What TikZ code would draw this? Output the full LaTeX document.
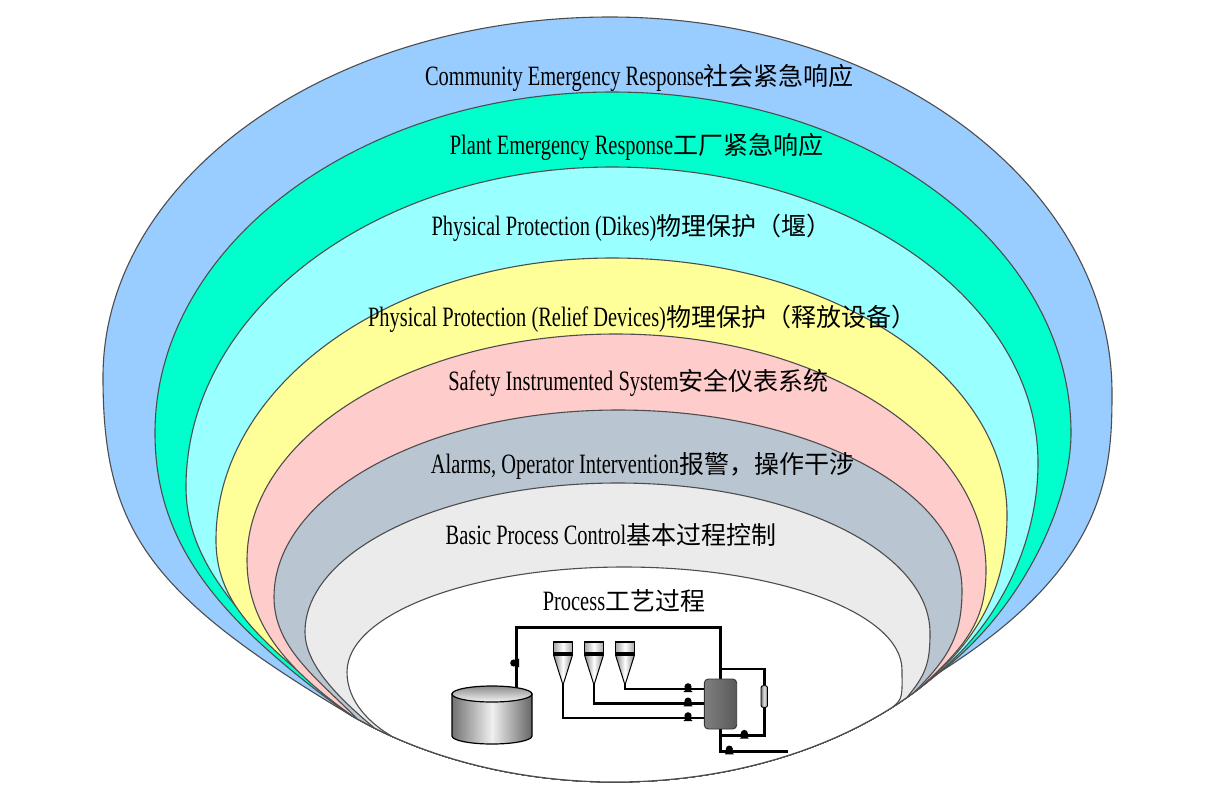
\documentclass[tikz,border=0pt]{standalone}
\usepackage{fontspec}
\setmainfont{Liberation Serif}[FakeStretch=0.73]
\newfontfamily\cjk{Noto Sans CJK SC}
\definecolor{cBlue}{HTML}{99CCFF}
\definecolor{cGreen}{HTML}{00FFCC}
\definecolor{cCyan}{HTML}{99FFFF}
\definecolor{cYellow}{HTML}{FFFF99}
\definecolor{cPink}{HTML}{FFCCCC}
\definecolor{cSlate}{HTML}{B9C5D1}
\definecolor{cLight}{HTML}{EBEBEB}
\definecolor{cWhite}{HTML}{FFFFFF}
\definecolor{cEdge}{HTML}{4D4D4D}
\newcommand\zh[1]{{\cjk\fontsize{25}{30}\selectfont #1}}
\tikzset{
  layer/.style={draw=cEdge, line width=1.1pt, line join=round},
  lbl/.style={inner sep=0pt, anchor=base, font=\fontsize{28}{32}\selectfont},
  pipe/.style={line width=2.6pt, line join=miter, draw=black},
  valve/.pic={\fill[black] (0,-1.2) circle[radius=3.6]; \fill[black] (-4.6,4) -- (4.6,4) -- (0,-1) -- cycle;}
}
\begin{document}
\begin{tikzpicture}[x=1pt,y=-1pt]
\useasboundingbox (0,0) rectangle (1218,804);
\fill[white] (0,0) rectangle (1218,804);
% nested layers
\foreach \Col/\PhL/\AlL/\SL/\XL/\YL/\TL/\XT/\YT/\XR/\YR/\TR/\SR/\AlR/\PhR in {
  cBlue/131.5/31/230/103/377/150/610/17/1112/393/80/200/32/38,
  cGreen/131/36/160/155/433/110/612/92/1071/433/70/110/36/39,
  cCyan/130.5/40/130/186/487/80/612/167/1038/463/70/100/38/40,
  cYellow/130/40/110/216/540/70/612/258/1007/515/60/85/40/41,
  cPink/129.5/35/90/247/560/60/616/334/986/570/50/65/42/42,
  cSlate/129/45/60/274/597/50/618/410/962/590/45/50/45/43,
  cLight/126/40/40/305/632/35/618/483/930/633/30/30/50/44.5,
  cWhite/123/30/25/347/672/30/624/567/902/670/25/15/35/47.5}{
  \pgfmathsetmacro\mlx{615+409*cos(\PhL)}
  \pgfmathsetmacro\mly{500+282*sin(\PhL)}
  \pgfmathsetmacro\cax{\mlx-\SL*cos(\AlL)}
  \pgfmathsetmacro\cay{\mly-\SL*sin(\AlL)}
  \pgfmathsetmacro\mrx{615+409*cos(\PhR)}
  \pgfmathsetmacro\mry{500+282*sin(\PhR)}
  \pgfmathsetmacro\cbx{\mrx+\SR*cos(\AlR)}
  \pgfmathsetmacro\cby{\mry-\SR*sin(\AlR)}
  \pgfmathsetmacro\qa{\YL-0.5523*(\YL-\YT)}
  \pgfmathsetmacro\qb{\XT-0.5523*(\XT-\XL)}
  \pgfmathsetmacro\qc{\XT+0.5523*(\XR-\XT)}
  \pgfmathsetmacro\qd{\YR-0.5523*(\YR-\YT)}
  \pgfmathsetmacro\ylt{\YL+\TL}
  \pgfmathsetmacro\yrt{\YR+\TR}
  \filldraw[layer, fill=\Col] (\mlx,\mly) .. controls (\cax,\cay) and (\XL,\ylt) .. (\XL,\YL)
    .. controls (\XL,\qa) and (\qb,\YT) .. (\XT,\YT)
    .. controls (\qc,\YT) and (\XR,\qd) .. (\XR,\YR)
    .. controls (\XR,\yrt) and (\cbx,\cby) .. (\mrx,\mry)
    -- plot[variable=\t, domain=\PhR:\PhL, samples=40] ({615+409*cos(\t)},{500+282*sin(\t)}) -- cycle;
}
% labels
\node[lbl] (t1) at (639.5,85) {Community Emergency Response\zh{社会紧急响应}};
\node[lbl] (t2) at (636.5,154) {Plant Emergency Response\zh{工厂紧急响应}};
\node[lbl] (t3) at (631.5,235) {Physical Protection (Dikes)\zh{物理保护（堰）}};
\node[lbl] (t4) at (642,326) {Physical Protection (Relief Devices)\zh{物理保护（释放设备）}};
\node[lbl] (t5) at (638.5,390) {Safety Instrumented System\zh{安全仪表系统}};
\node[lbl] (t6) at (642.5,473) {Alarms, Operator Intervention\zh{报警，操作干涉}};
\node[lbl] (t7) at (611,544) {Basic Process Control\zh{基本过程控制}};
\node[lbl] (t8) at (624,610) {Process\zh{工艺过程}};
% process sketch: pipes
\draw[pipe] (516.7,687) -- (516.7,627.3) -- (720.5,627.3) -- (720.5,679);
\draw[pipe] (563,684) -- (563,718) -- (704.3,718);
\draw[pipe] (594,684) -- (594,703.3) -- (704.3,703.3);
\draw[pipe] (625,684) -- (625,689) -- (704.3,689);
\draw[pipe] (720.5,669) -- (764.3,669) -- (764.3,686);
\draw[pipe] (764.3,707) -- (764.3,735.7) -- (720.5,735.7);
\draw[pipe] (720.5,729) -- (720.5,751.3) -- (788,751.3);
% tank
\shadedraw[left color=black!55, right color=black!60, middle color=black!6, draw=black, line width=1.2pt]
  (452,694) -- (452,736) arc[start angle=180, end angle=0, x radius=40, y radius=8] -- (532,694) -- cycle;
\shadedraw[top color=black!45, bottom color=black!4, draw=black, line width=1.2pt] (492,694) ellipse[x radius=40, y radius=8];
% hoppers
\foreach \hx in {563,594,625}{
  \shadedraw[left color=black!45, right color=black!45, middle color=white, draw=black, line width=1pt]
    ({\hx-9.5},655) -- ({\hx+9.5},655) -- (\hx,685) -- cycle;
  \shadedraw[left color=black!35, right color=black!35, middle color=white, draw=black, line width=1.1pt]
    ({\hx-9.5},642) rectangle ({\hx+9.5},655);
  \fill[black] ({\hx-9.5},651.5) rectangle ({\hx+9.5},655.5);
}
% vessel and instrument
\shadedraw[rounded corners=4pt, left color=black!50, middle color=black!22, right color=black!65, draw=black!80, line width=0.9pt]
  (704.3,679) rectangle (736.7,729);
\shadedraw[rounded corners=2pt, left color=black!55, right color=black!55, middle color=black!10, draw=black, line width=0.9pt]
  (761,685.7) rectangle (767.5,707.3);
% valves
\pic[rotate=90] at (515,663) {valve};
\pic at (688,688) {valve};
\pic at (688,702.3) {valve};
\pic at (688,717) {valve};
\pic at (744.3,734.7) {valve};
\pic at (729.3,750.3) {valve};
\end{tikzpicture}
\end{document}
